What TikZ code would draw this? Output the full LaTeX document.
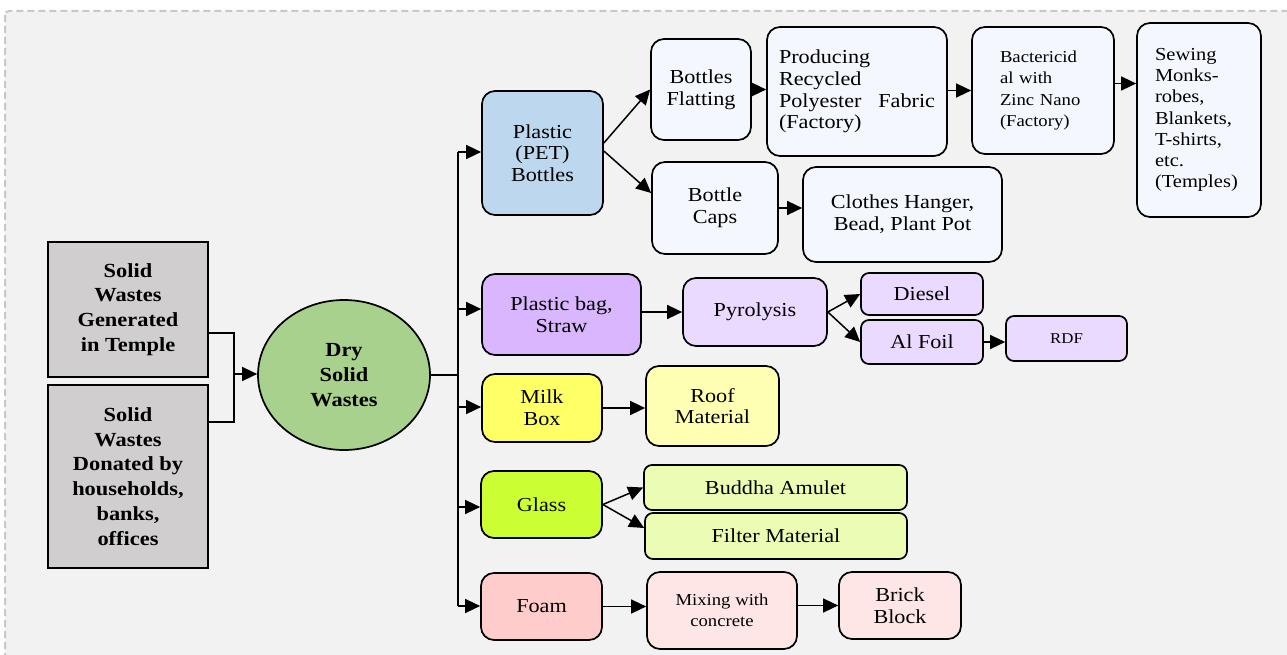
\documentclass[tikz,border=0pt]{standalone}
\usepackage{fontspec}
\setmainfont{Liberation Serif}[FakeStretch=1.12]
\usetikzlibrary{arrows.meta, shapes.geometric}

\definecolor{bgcol}{HTML}{F2F2F2}
\definecolor{framecol}{HTML}{C8C8C8}
\definecolor{srcgray}{HTML}{D0CECE}
\definecolor{drygreen}{HTML}{A9D18E}
\definecolor{petblue}{HTML}{BDD7EE}
\definecolor{bagpurple}{HTML}{D9B6FD}
\definecolor{milkyellow}{HTML}{FFFF66}
\definecolor{glassgreen}{HTML}{CCFF33}
\definecolor{foampink}{HTML}{FFCCCC}
\definecolor{paleblue}{HTML}{F4F8FE}
\definecolor{palepurple}{HTML}{EBDAFF}
\definecolor{paleyellow}{HTML}{FFFFB3}
\definecolor{palegreen}{HTML}{EBFDB5}
\definecolor{palepink}{HTML}{FFE6E6}

\newcommand{\fmain}{\fontsize{19.8}{21.7}\selectfont}
\newcommand{\fsmall}{\fontsize{16.7}{21.3}\selectfont}
\newcommand{\ftiny}{\fontsize{15}{18}\selectfont}
\newcommand{\fheavy}{\fontsize{20}{24.8}\selectfont\bfseries}

\tikzset{
    sz/.style 2 args={minimum width=#1pt, minimum height=#2pt},
    wbox/.style={draw, line width=1.7pt, rounded corners=13pt, align=center, inner sep=0pt, font=\fmain},
    sbox/.style={wbox, rounded corners=8pt},
    lbox/.style={wbox, align=left, inner ysep=0pt},
    srcbox/.style={draw, line width=1.9pt, fill=srcgray, align=center, inner sep=0pt, font=\fheavy},
    arr/.style={line width=1.5pt, -{Triangle[length=15pt, width=14pt]}},
    wire/.style={line width=1.5pt}
}

\begin{document}
\begin{tikzpicture}[x=1pt, y=-1pt]
\useasboundingbox (0,0) rectangle (1287,655);
\clip (0,0) rectangle (1287,655);
\fill[white] (0,0) rectangle (1287,655);
\draw[framecol, fill=bgcol, line width=2pt, dash pattern=on 7pt off 4pt, rounded corners=4pt] (5,11) rectangle (1320,690);

\node[srcbox, sz={160}{135}] (temple) at (128,309.5) {Solid\\Wastes\\Generated\\in Temple};
\node[srcbox, sz={160}{183}] (donated) at (128,476.5) {Solid\\Wastes\\Donated by\\households,\\banks,\\offices};
\node[ellipse, draw, line width=1.7pt, fill=drygreen, sz={172}{150}, align=center, inner sep=0pt, font=\fheavy] (dry) at (344,375) {Dry\\Solid\\Wastes};

\node[wbox, fill=petblue, sz={121}{124}] (pet) at (542.5,153) {Plastic\\(PET)\\Bottles};
\node[wbox, fill=bagpurple, sz={159}{81}] (bag) at (561.5,314.5) {Plastic bag,\\Straw};
\node[wbox, fill=milkyellow, sz={120}{68}] (milk) at (542,408) {Milk\\Box};
\node[wbox, fill=glassgreen, sz={121}{67}] (glass) at (541.5,504.5) {Glass};
\node[wbox, fill=foampink, sz={121}{67}] (foam) at (541.5,606.5) {Foam};

\node[wbox, fill=paleblue, sz={100}{101}] (flat) at (701,89.5) {Bottles\\Flatting};
\node[lbox, fill=paleblue, sz={180}{129}, text width=156pt, inner xsep=12pt] (fabric) at (857,91.5) {Producing\\Recycled\\Polyester\hfill Fabric\\(Factory)};
\node[lbox, fill=paleblue, sz={142}{127}, text width=86pt, inner xsep=28pt, font=\fsmall] (zinc) at (1043,90.5) {Bactericid\\al with\\Zinc Nano\\(Factory)};
\node[lbox, fill=paleblue, sz={124}{194}, text width=88pt, inner xsep=18pt, font=\fontsize{18.3}{21.2}\selectfont] (sew) at (1199,120) {Sewing\\Monks-\\robes,\\Blankets,\\T-shirts,\\etc.\\(Temples)};
\node[wbox, fill=paleblue, sz={126}{92}] (caps) at (715,208) {Bottle\\Caps};
\node[wbox, fill=paleblue, sz={199}{95}] (hanger) at (902.5,214.5) {Clothes Hanger,\\Bead, Plant Pot};

\node[wbox, fill=palepurple, sz={144}{68}] (pyro) at (755,312) {Pyrolysis};
\node[sbox, fill=palepurple, sz={122}{42}] (diesel) at (922,294) {Diesel};
\node[sbox, fill=palepurple, sz={122}{44}] (foil) at (922,342) {Al Foil};
\node[sbox, fill=palepurple, sz={121}{45}, font=\ftiny] (rdf) at (1066.5,338.5) {RDF};

\node[wbox, fill=paleyellow, sz={133}{80}] (roof) at (712.5,406) {Roof\\Material};

\node[sbox, fill=palegreen, sz={263}{45}] (amulet) at (775.5,487.5) {Buddha Amulet};
\node[sbox, fill=palegreen, sz={262}{46}] (filter) at (776,536) {Filter Material};

\node[wbox, fill=palepink, sz={150}{77}, font=\fsmall] (mix) at (722,610.5) {Mixing with\\concrete};
\node[wbox, fill=palepink, sz={122}{67}] (brick) at (900,605.5) {Brick\\Block};

\coordinate (jtop) at (234,333);
\coordinate (jbot) at (234,422);
\coordinate (jmid) at (234,374);
\draw[wire] (temple.east |- jtop) -- (jtop) -- (jbot) -- (donated.east |- jbot);
\draw[arr] (jmid) -- (jmid -| dry.west);

\coordinate (trunk) at (458,375);
\coordinate (tpet) at (458,152);
\coordinate (tbag) at (458,309);
\coordinate (tmilk) at (458,407);
\coordinate (tglass) at (458,507);
\coordinate (tfoam) at (458,606);
\draw[wire] (dry.east) -- (trunk);
\draw[wire] (tpet) -- (tfoam);
\draw[arr] (tpet) -- (tpet -| pet.west);
\draw[arr] (tbag) -- (tbag -| bag.west);
\draw[arr] (tmilk) -- (tmilk -| milk.west);
\draw[arr] (tglass) -- (tglass -| glass.west);
\draw[arr] (tfoam) -- (tfoam -| foam.west);

\draw[arr] ([yshift=10pt]pet.east) -- (flat.west);
\draw[arr] ([yshift=2pt]pet.east) -- ([yshift=15pt]caps.west);
\draw[arr] (flat.east) -- (flat.east -| fabric.west);
\draw[arr] (fabric.east |- zinc.west) -- (zinc.west);
\draw[arr] ([yshift=7pt]zinc.east) -- ([yshift=7pt]zinc.east -| sew.west);
\draw[arr] (caps.east) -- (caps.east -| hanger.west);

\draw[arr] (pyro.west -| bag.east) -- (pyro.west);
\draw[arr] (pyro.east) -- (diesel.west);
\draw[arr] (pyro.east) -- (foil.west);
\draw[arr] (foil.east) -- (foil.east -| rdf.west);

\draw[arr] (milk.east) -- (milk.east -| roof.west);

\draw[arr] (glass.east) -- (amulet.west);
\draw[arr] (glass.east) -- ([yshift=8pt]filter.west);

\draw[arr] (foam.east) -- (foam.east -| mix.west);
\draw[arr] (brick.west -| mix.east) -- (brick.west);
\end{tikzpicture}
\end{document}
